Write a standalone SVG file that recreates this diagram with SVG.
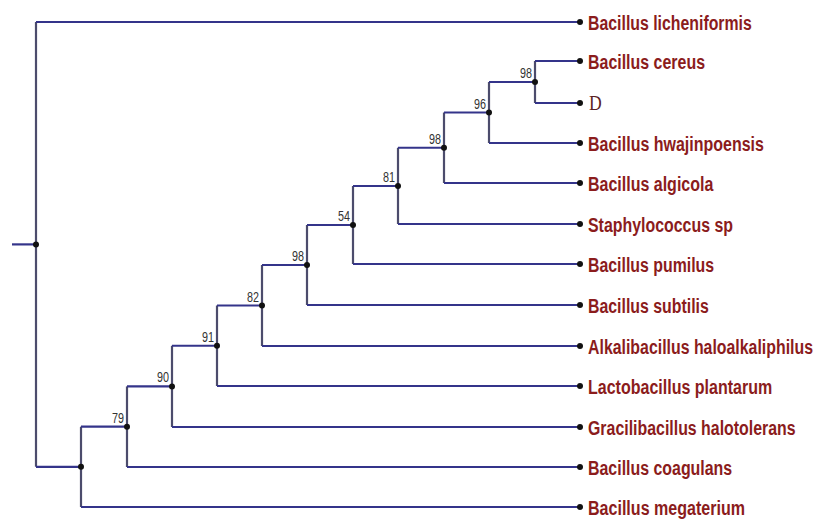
<svg xmlns="http://www.w3.org/2000/svg" width="822" height="527" viewBox="0 0 822 527">
<style>
.h{stroke:#34348a;stroke-width:2.2;fill:none}
.v{stroke:#4c4c6c;stroke-width:2.2;fill:none}
.dot{fill:#111}
.lab{font-family:"Liberation Sans",Arial,sans-serif;font-weight:bold;font-size:21px;fill:#8b1c1c}
.bs{font-family:"Liberation Sans",Arial,sans-serif;font-size:14px;fill:#333}
.d{font-family:"Liberation Serif","Times New Roman",serif;font-size:22px;fill:#5a2222}
</style>
<rect width="822" height="527" fill="#fff"/>
<g id="connectors">
<path class="h" d="M12 244.4H36"/>
<path class="v" d="M36 22V466.85"/>
<path class="h" d="M36 22H580M36 466.85H81"/>
<path class="v" d="M81 426.7V507"/>
<path class="h" d="M81 426.7H127M81 507H580"/>
<path class="v" d="M127 386.4V467"/>
<path class="h" d="M127 386.4H172M127 467H580"/>
<path class="v" d="M172 345.75V427"/>
<path class="h" d="M172 345.75H217M172 427H580"/>
<path class="v" d="M217 305.5V386"/>
<path class="h" d="M217 305.5H262M217 386H580"/>
<path class="v" d="M262 265V346"/>
<path class="h" d="M262 265H307M262 346H580"/>
<path class="v" d="M307 225V305"/>
<path class="h" d="M307 225H353M307 305H580"/>
<path class="v" d="M353 186V264"/>
<path class="h" d="M353 186H398M353 264H580"/>
<path class="v" d="M398 147.75V224"/>
<path class="h" d="M398 147.75H444M398 224H580"/>
<path class="v" d="M444 112.5V183"/>
<path class="h" d="M444 112.5H489M444 183H580"/>
<path class="v" d="M489 82V143"/>
<path class="h" d="M489 82H535M489 143H580"/>
<path class="v" d="M535 61V103"/>
<path class="h" d="M535 61H580M535 103H580"/>
</g>
<g id="n-root"><circle class="dot" cx="36" cy="244.4" r="3"/></g>
<g id="n-a"><circle class="dot" cx="81" cy="466.85" r="3"/></g>
<g id="n-79"><circle class="dot" cx="127" cy="426.7" r="3"/><text class="bs" x="112" y="422.7" textLength="12" lengthAdjust="spacingAndGlyphs">79</text></g>
<g id="n-90"><circle class="dot" cx="172" cy="386.4" r="3"/><text class="bs" x="157" y="382.4" textLength="12" lengthAdjust="spacingAndGlyphs">90</text></g>
<g id="n-91"><circle class="dot" cx="217" cy="345.75" r="3"/><text class="bs" x="202" y="341.75" textLength="12" lengthAdjust="spacingAndGlyphs">91</text></g>
<g id="n-82"><circle class="dot" cx="262" cy="305.5" r="3"/><text class="bs" x="247" y="301.5" textLength="12" lengthAdjust="spacingAndGlyphs">82</text></g>
<g id="n-98c"><circle class="dot" cx="307" cy="265" r="3"/><text class="bs" x="292" y="261" textLength="12" lengthAdjust="spacingAndGlyphs">98</text></g>
<g id="n-54"><circle class="dot" cx="353" cy="225" r="3"/><text class="bs" x="338" y="221" textLength="12" lengthAdjust="spacingAndGlyphs">54</text></g>
<g id="n-81"><circle class="dot" cx="398" cy="186" r="3"/><text class="bs" x="383" y="182" textLength="12" lengthAdjust="spacingAndGlyphs">81</text></g>
<g id="n-98b"><circle class="dot" cx="444" cy="147.75" r="3"/><text class="bs" x="429" y="143.75" textLength="12" lengthAdjust="spacingAndGlyphs">98</text></g>
<g id="n-96"><circle class="dot" cx="489" cy="112.5" r="3"/><text class="bs" x="474" y="108.5" textLength="12" lengthAdjust="spacingAndGlyphs">96</text></g>
<g id="n-98a"><circle class="dot" cx="535" cy="82" r="3"/><text class="bs" x="520" y="78" textLength="12" lengthAdjust="spacingAndGlyphs">98</text></g>
<g id="leaf-licheniformis"><circle class="dot" cx="580" cy="22" r="3"/><text class="lab" transform="matrix(0.755 0 0 1 588 30)" textLength="217" lengthAdjust="spacingAndGlyphs">Bacillus licheniformis</text></g>
<g id="leaf-cereus"><circle class="dot" cx="580" cy="61" r="3"/><text class="lab" transform="matrix(0.755 0 0 1 588 69)" textLength="155" lengthAdjust="spacingAndGlyphs">Bacillus cereus</text></g>
<g id="leaf-D"><circle class="dot" cx="580" cy="103" r="3"/><text class="d" transform="matrix(0.8 0 0 1 589 110)">D</text></g>
<g id="leaf-hwajinpoensis"><circle class="dot" cx="580" cy="143" r="3"/><text class="lab" transform="matrix(0.755 0 0 1 588 151)" textLength="233" lengthAdjust="spacingAndGlyphs">Bacillus hwajinpoensis</text></g>
<g id="leaf-algicola"><circle class="dot" cx="580" cy="183" r="3"/><text class="lab" transform="matrix(0.755 0 0 1 588 191)" textLength="166" lengthAdjust="spacingAndGlyphs">Bacillus algicola</text></g>
<g id="leaf-staphylococcus"><circle class="dot" cx="580" cy="224" r="3"/><text class="lab" transform="matrix(0.755 0 0 1 588 232)" textLength="192" lengthAdjust="spacingAndGlyphs">Staphylococcus sp</text></g>
<g id="leaf-pumilus"><circle class="dot" cx="580" cy="264" r="3"/><text class="lab" transform="matrix(0.755 0 0 1 588 272)" textLength="167" lengthAdjust="spacingAndGlyphs">Bacillus pumilus</text></g>
<g id="leaf-subtilis"><circle class="dot" cx="580" cy="305" r="3"/><text class="lab" transform="matrix(0.755 0 0 1 588 313)" textLength="160" lengthAdjust="spacingAndGlyphs">Bacillus subtilis</text></g>
<g id="leaf-alkalibacillus"><circle class="dot" cx="580" cy="346" r="3"/><text class="lab" transform="matrix(0.755 0 0 1 588 354)" textLength="298" lengthAdjust="spacingAndGlyphs">Alkalibacillus haloalkaliphilus</text></g>
<g id="leaf-lactobacillus"><circle class="dot" cx="580" cy="386" r="3"/><text class="lab" transform="matrix(0.755 0 0 1 588 394)" textLength="244" lengthAdjust="spacingAndGlyphs">Lactobacillus plantarum</text></g>
<g id="leaf-gracilibacillus"><circle class="dot" cx="580" cy="427" r="3"/><text class="lab" transform="matrix(0.755 0 0 1 588 435)" textLength="275" lengthAdjust="spacingAndGlyphs">Gracilibacillus halotolerans</text></g>
<g id="leaf-coagulans"><circle class="dot" cx="580" cy="467" r="3"/><text class="lab" transform="matrix(0.755 0 0 1 588 475)" textLength="191" lengthAdjust="spacingAndGlyphs">Bacillus coagulans</text></g>
<g id="leaf-megaterium"><circle class="dot" cx="580" cy="507" r="3"/><text class="lab" transform="matrix(0.755 0 0 1 588 515)" textLength="208" lengthAdjust="spacingAndGlyphs">Bacillus megaterium</text></g>
</svg>
